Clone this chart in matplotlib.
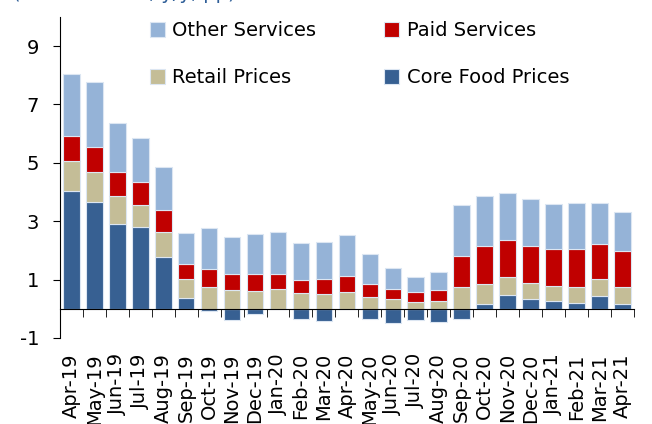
import numpy as np
import matplotlib as mpl
mpl.use('Agg')
import matplotlib.pyplot as plt

months = ['Apr-19', 'May-19', 'Jun-19', 'Jul-19', 'Aug-19', 'Sep-19', 'Oct-19',
          'Nov-19', 'Dec-19', 'Jan-20', 'Feb-20', 'Mar-20', 'Apr-20', 'May-20',
          'Jun-20', 'Jul-20', 'Aug-20', 'Sep-20', 'Oct-20', 'Nov-20', 'Dec-20',
          'Jan-21', 'Feb-21', 'Mar-21', 'Apr-21']

core_food = [4.04, 3.67, 2.89, 2.79, 1.78, 0.37, -0.08, -0.37, -0.18, 0.0, -0.34, -0.41,
             0.0, -0.34, -0.49, -0.40, -0.44, -0.35, 0.17, 0.48, 0.32, 0.28, 0.20, 0.43, 0.17]
retail = [1.04, 1.03, 0.98, 0.78, 0.84, 0.65, 0.76, 0.65, 0.62, 0.66, 0.53, 0.52,
          0.59, 0.41, 0.32, 0.24, 0.27, 0.73, 0.68, 0.60, 0.56, 0.50, 0.56, 0.58, 0.57]
paid = [0.84, 0.84, 0.82, 0.77, 0.75, 0.50, 0.59, 0.53, 0.56, 0.54, 0.47, 0.50,
        0.54, 0.43, 0.37, 0.32, 0.36, 1.08, 1.30, 1.27, 1.27, 1.27, 1.28, 1.21, 1.23]
other = [2.14, 2.24, 1.67, 1.52, 1.50, 1.07, 1.43, 1.28, 1.37, 1.44, 1.25, 1.27,
         1.40, 1.02, 0.71, 0.53, 0.62, 1.76, 1.70, 1.62, 1.60, 1.54, 1.57, 1.41, 1.33]

yticks = [-1, 1, 3, 5, 7, 9]


def main():
    plt.rcParams['axes.unicode_minus'] = False
    x = np.arange(len(months))
    core = np.array(core_food)
    base = np.clip(core, 0, None)
    r = np.array(retail)
    p = np.array(paid)
    o = np.array(other)

    fig = plt.figure(figsize=(6.52, 4.24), dpi=100)
    ax = fig.add_axes([0.092, 0.203, 0.88, 0.757])

    w = 0.72
    kw = dict(width=w, edgecolor='#dce6f2', linewidth=0.8)
    b_core = ax.bar(x, core, color='#376092', **kw)
    b_ret = ax.bar(x, r, bottom=base, color='#c4bd97', **kw)
    b_paid = ax.bar(x, p, bottom=base + r, color='#c00000', **kw)
    b_oth = ax.bar(x, o, bottom=base + r + p, color='#95b3d7', **kw)

    ax.set_xlim(-0.5, len(months) - 0.5)
    ax.set_ylim(-1, 10)
    ax.set_yticks(yticks)
    ax.tick_params(axis='y', labelsize=14, length=5, direction='out', pad=10)

    ax.spines['top'].set_visible(False)
    ax.spines['right'].set_visible(False)
    ax.spines['bottom'].set_position(('data', 0))
    ax.set_xticks([])
    ax.set_xticks(np.arange(len(months) + 1) - 0.5, minor=True)
    ax.tick_params(axis='x', which='minor', length=5.5, direction='out')

    # month labels sit below the plot, not on the zero line
    sec = ax.secondary_xaxis('bottom')
    sec.spines['bottom'].set_visible(False)
    sec.set_xticks(x)
    sec.set_xticklabels(months, rotation=90)
    sec.tick_params(axis='x', length=0, labelsize=14, pad=11)

    handles = [b_oth, b_ret, b_paid, b_core]
    labels = ['Other Services', 'Retail Prices', 'Paid Services', 'Core Food Prices']
    fig.legend(handles, labels, ncol=2, frameon=False, fontsize=14,
               loc='upper left', bbox_to_anchor=(0.23, 0.95),
               handlelength=0.75, handleheight=0.75, handletextpad=0.4,
               labelspacing=1.45, columnspacing=3.5, borderpad=0, borderaxespad=0)

    # title is clipped by the top edge in the original, only descenders show
    fig.text(0.02, 1.003, '(contributions, y/y, pp)', fontsize=14,
             color='#2f5f98', va='baseline')

    fig.savefig('out.png', dpi=100)


if __name__ == "__main__":
    main()
